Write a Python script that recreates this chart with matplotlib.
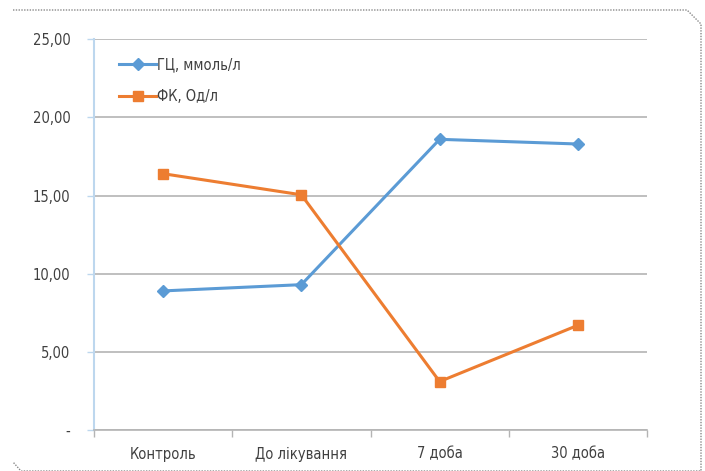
import matplotlib
matplotlib.use("Agg")
import matplotlib.pyplot as plt
from matplotlib import font_manager
from matplotlib.patches import Polygon
from matplotlib.ticker import FixedLocator, FuncFormatter

# the original uses a condensed face; take one if the machine has it
narrow = None
for f in font_manager.fontManager.ttflist:
    if "Narrow" in f.name or "Condensed" in f.name or f.stretch in ("condensed", "semi-condensed"):
        narrow = f
        break
if narrow is not None:
    plt.rcParams['font.family'] = [narrow.name, 'DejaVu Sans']
    plt.rcParams['font.stretch'] = narrow.stretch
    fs = 10.5
else:
    plt.rcParams['font.family'] = ['Liberation Sans', 'DejaVu Sans']
    fs = 9.5

categories = ["Контроль", "До лікування", "7 доба", "30 доба"]
gc_values = [8.9, 9.3, 18.6, 18.3]
fk_values = [16.4, 15.05, 3.1, 6.7]
series_labels = ["ГЦ, ммоль/л", "ФК, Од/л"]
y_ticks = [0, 5, 10, 15, 20, 25]

blue = "#5B9BD5"
orange = "#ED7D31"
grid_col = "#B4B4B4"
text_col = "#404040"

W, H = 705, 471
fig = plt.figure(figsize=(W / 100, H / 100), dpi=100)
ax = fig.add_axes([94 / W, 1 - 430 / H, (647 - 94) / W, (430 - 39.3) / H])

x = list(range(len(categories)))
ax.plot(x, gc_values, color=blue, lw=2.2, marker="D", ms=6.5, label=series_labels[0], zorder=3)
ax.plot(x, fk_values, color=orange, lw=2.2, marker="s", ms=7.5, label=series_labels[1], zorder=3)

ax.set_xlim(-0.5, len(categories) - 0.5)
ax.set_ylim(0, 25)

ax.set_xticks(x)
ax.set_xticklabels(categories)
ax.xaxis.set_minor_locator(FixedLocator([i - 0.5 for i in range(len(categories) + 1)]))
ax.tick_params(axis="x", which="major", length=0, pad=12, labelsize=fs, labelcolor=text_col)
ax.tick_params(axis="x", which="minor", length=5, color=grid_col, width=1)

ax.set_yticks(y_ticks)
ax.yaxis.set_major_formatter(FuncFormatter(lambda v, p: "-" if v == 0 else ("%.2f" % v).replace(".", ",")))
ax.tick_params(axis="y", length=5, color="#BDD7EE", width=1, pad=12, labelsize=fs, labelcolor=text_col)

ax.grid(axis="y", color=grid_col, lw=1.2)
ax.set_axisbelow(True)
for s in ["top", "right"]:
    ax.spines[s].set_visible(False)
ax.spines["left"].set_color("#BDD7EE")
ax.spines["left"].set_linewidth(1.5)
ax.spines["bottom"].set_color(grid_col)
ax.spines["bottom"].set_linewidth(1.2)

leg = ax.legend(loc="upper left", bbox_to_anchor=(0.022, 0.988), frameon=False, fontsize=fs,
                handlelength=2.5, handletextpad=0.12, labelspacing=1.17, labelcolor=text_col)

# dotted chart frame with clipped corners
frame = Polygon([(13 / W, 1 - 10 / H), (687 / W, 1 - 10 / H), (701 / W, 1 - 24 / H),
                 (701 / W, 0.0), (21 / W, 0.0), (13 / W, 1 - 462 / H)],
                closed=False, fill=False, ec="#888888", lw=1, ls=(0, (1, 1)),
                transform=fig.transFigure)
fig.patches.append(frame)

fig.savefig("out.png", dpi=100)
